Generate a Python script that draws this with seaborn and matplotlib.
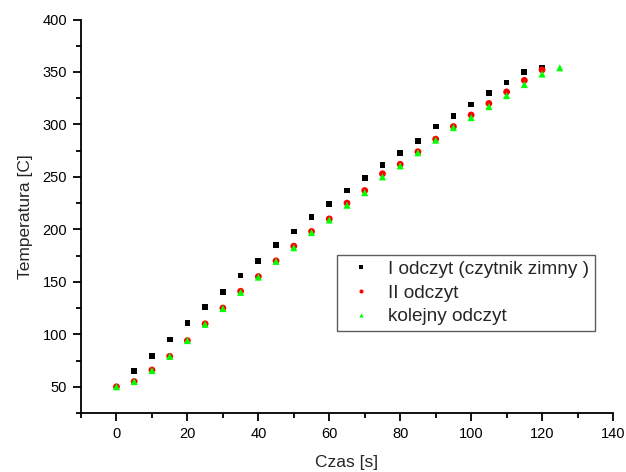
import matplotlib
matplotlib.use("Agg")
import matplotlib.pyplot as plt
from matplotlib.ticker import MultipleLocator
import seaborn as sns
import pandas as pd

# ---- data ----
series_names = ["I odczyt (czytnik zimny )", "II odczyt", "kolejny odczyt"]

time_1 = [5, 10, 15, 20, 25, 30, 35, 40, 45, 50, 55, 60, 65, 70, 75, 80,
          85, 90, 95, 100, 105, 110, 115, 120]
temp_1 = [65, 79, 95, 111, 126, 140, 156, 170, 185, 198, 212, 224, 237, 249,
          261, 273, 284, 298, 308, 319, 330, 340, 350, 353.5]

time_2 = [0, 5, 10, 15, 20, 25, 30, 35, 40, 45, 50, 55, 60, 65, 70, 75, 80,
          85, 90, 95, 100, 105, 110, 115, 120]
temp_2 = [50, 55, 66, 79, 94, 110, 125, 141, 155, 170, 184, 198, 210, 225,
          237, 253, 262, 274, 286, 298, 309, 320, 331, 342, 352]

time_3 = [0, 5, 10, 15, 20, 25, 30, 35, 40, 45, 50, 55, 60, 65, 70, 75, 80,
          85, 90, 95, 100, 105, 110, 115, 120, 125]
temp_3 = [50, 55, 65.5, 79, 94, 109.5, 124.5, 140, 154.5, 169.5, 182.5, 197,
          209, 223, 235, 250, 260.5, 273, 285, 297, 306.5, 317, 327.5, 338,
          348, 354]

x_label = "Czas [s]"
y_label = "Temperatura [C]"

df = pd.concat([
    pd.DataFrame({"t": time_1, "T": temp_1, "seria": series_names[0]}),
    pd.DataFrame({"t": time_2, "T": temp_2, "seria": series_names[1]}),
    pd.DataFrame({"t": time_3, "T": temp_3, "seria": series_names[2]}),
], ignore_index=True)

sns.set_style("ticks")
plt.rcParams["font.family"] = ["Liberation Sans", "DejaVu Sans"]

fig = plt.figure(figsize=(6.26, 4.72), dpi=100)
ax = fig.add_axes([81 / 626, 1 - 413 / 472, 532 / 626, 393.5 / 472])

sns.scatterplot(
    data=df, x="t", y="T", hue="seria", style="seria", size="seria",
    hue_order=series_names, style_order=series_names, size_order=series_names,
    palette={series_names[0]: "#000000", series_names[1]: "#ff0000",
             series_names[2]: "#00ff00"},
    markers={series_names[0]: "s", series_names[1]: "o", series_names[2]: "^"},
    sizes={series_names[0]: 17, series_names[1]: 24, series_names[2]: 26},
    linewidth=0, ax=ax, legend=True,
)

ax.set_xlim(-10, 140)
ax.set_ylim(25, 400)
ax.xaxis.set_major_locator(MultipleLocator(20))
ax.xaxis.set_minor_locator(MultipleLocator(10))
ax.yaxis.set_major_locator(MultipleLocator(50))
ax.yaxis.set_minor_locator(MultipleLocator(25))
ax.set_yticks([50, 100, 150, 200, 250, 300, 350, 400])

for side in ["top", "right"]:
    ax.spines[side].set_visible(False)
for side in ["left", "bottom"]:
    ax.spines[side].set_linewidth(1.3)
    ax.spines[side].set_color("black")

ax.tick_params(axis="both", which="major", direction="out", length=6,
               width=1.3, labelsize=10.5, colors="black", pad=4)
ax.tick_params(axis="both", which="minor", direction="out", length=3.5,
               width=1.3, colors="black")

ax.set_xlabel(x_label, fontsize=12.5, labelpad=10)
ax.set_ylabel(y_label, fontsize=12.5, labelpad=7)

handles, labels = ax.get_legend_handles_labels()
leg = ax.legend(handles, labels, loc="upper left",
                bbox_to_anchor=(256 / 532, 158 / 393.5), borderaxespad=0,
                fontsize=13.7, frameon=True, fancybox=False, markerscale=0.6,
                handlelength=1.9, handletextpad=0.5, labelspacing=0.33,
                borderpad=0.3)
leg.get_frame().set_edgecolor("#333333")
leg.get_frame().set_linewidth(1.0)

fig.savefig("out.png", dpi=100)
